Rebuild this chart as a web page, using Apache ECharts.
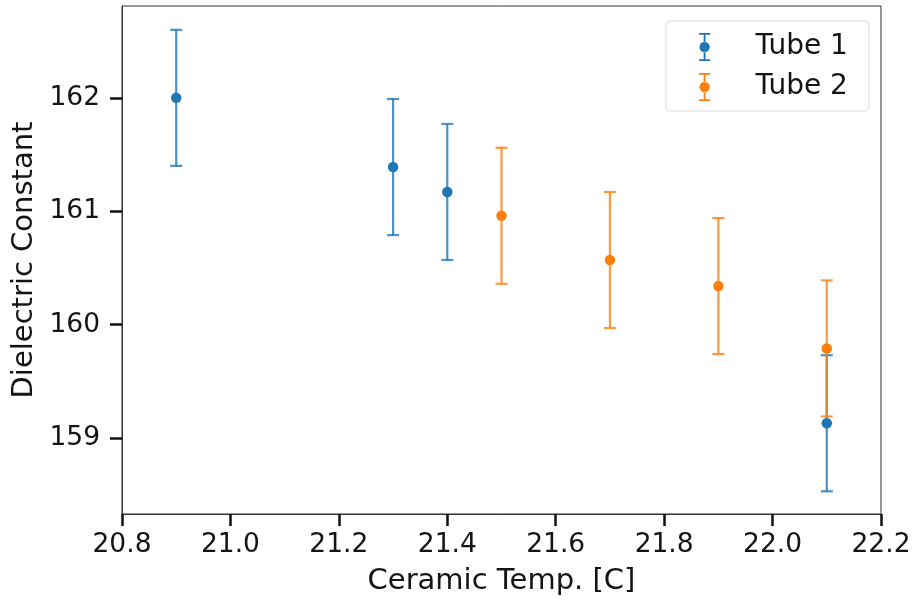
<!DOCTYPE html>
<html><head><meta charset="utf-8">
<script src="https://cdn.jsdelivr.net/npm/echarts@6/dist/echarts.min.js"></script>
<style>html,body{margin:0;padding:0;background:#fff}#c{width:917px;height:601px}</style>
</head><body><div id="c"></div>
<script>
const tube1X = [20.9, 21.3, 21.4, 22.1];
const tube1Y = [162.00, 161.39, 161.17, 159.13];
const tube1Err = [0.6, 0.6, 0.6, 0.6];
const tube2X = [21.5, 21.7, 21.9, 22.1];
const tube2Y = [160.96, 160.57, 160.34, 159.79];
const tube2Err = [0.6, 0.6, 0.6, 0.6];
const xTicks = [20.8, 21.0, 21.2, 21.4, 21.6, 21.8, 22.0, 22.2];
const yTicks = [159, 160, 161, 162];

const C1 = '#1f77b4', C2 = '#ff7f0e';
const font = 'DejaVu Sans';
const TXT = '#141414';

function errSeries(name, xs, ys, es, color) {
  return {
    type: 'custom', name: name, z: 2,
    data: xs.map((x, i) => [x, ys[i] - es[i], ys[i] + es[i]]),
    renderItem: function (params, api) {
      const lo = api.coord([api.value(0), api.value(1)]);
      const hi = api.coord([api.value(0), api.value(2)]);
      const w = 6;
      const st = { stroke: color, lineWidth: 2.2, opacity: 0.8 };
      return { type: 'group', children: [
        { type: 'line', shape: { x1: lo[0], y1: lo[1], x2: hi[0], y2: hi[1] }, style: st },
        { type: 'line', shape: { x1: lo[0]-w, y1: lo[1], x2: lo[0]+w, y2: lo[1] }, style: st },
        { type: 'line', shape: { x1: hi[0]-w, y1: hi[1], x2: hi[0]+w, y2: hi[1] }, style: st }
      ]};
    }
  };
}
function ptSeries(name, xs, ys, color) {
  return { type: 'scatter', name: name, z: 3, symbol: 'circle', symbolSize: 10.5,
    itemStyle: { color: color, opacity: 1 }, data: xs.map((x, i) => [x, ys[i]]) };
}
const icon = 'path://M0,0H12V2H0Z M5,2H7V10H5Z M0.5,15A5.5,5.5 0 1,0 11.5,15A5.5,5.5 0 1,0 0.5,15Z M5,20H7V28H5Z M0,28H12V30H0Z';

const chart = echarts.init(document.getElementById('c'), null, { renderer: 'canvas' });
chart.setOption({
  animation: false,
  backgroundColor: '#fff',
  grid: { left: 122, right: 36, top: 6, bottom: 86, show: true, borderColor: '#333', borderWidth: 1 },
  legend: {
    left: 666, top: 21, orient: 'vertical', itemGap: 12, itemWidth: 12, itemHeight: 28,
    padding: [12, 21, 10, 33],
    backgroundColor: '#fff', borderColor: '#ddd', borderWidth: 1, borderRadius: 4,
    textStyle: { fontFamily: font, fontSize: 28, color: TXT, padding: [0, 0, 0, 40] },
    data: [
      { name: 'Tube 1', icon: icon, itemStyle: { color: C1 } },
      { name: 'Tube 2', icon: icon, itemStyle: { color: C2 } }
    ]
  },
  xAxis: {
    type: 'value', min: 20.8, max: 22.2, interval: 0.2,
    name: 'Ceramic Temp. [C]', nameLocation: 'middle', nameGap: 53,
    nameTextStyle: { fontFamily: font, fontSize: 29, color: TXT },
    axisLine: { lineStyle: { color: '#333', width: 1 } },
    axisTick: { length: 12, lineStyle: { color: '#111', width: 2.5 } },
    axisLabel: { fontFamily: font, fontSize: 26.5, color: TXT, margin: 18,
      formatter: v => v.toFixed(1) },
    splitLine: { show: false }
  },
  yAxis: {
    type: 'value', min: 158.33, max: 162.81,
    name: 'Dielectric Constant', nameLocation: 'middle', nameGap: 82,
    nameTextStyle: { fontFamily: font, fontSize: 29, color: TXT },
    axisLine: { show: true, lineStyle: { color: '#333', width: 1 } },
    axisTick: { show: true, length: 12, customValues: yTicks, lineStyle: { color: '#111', width: 2.5 } },
    axisLabel: { fontFamily: font, fontSize: 26.5, color: TXT, margin: 22, customValues: yTicks,
      formatter: v => String(Math.round(v)) },
    splitLine: { show: false }
  },
  series: [
    errSeries('Tube 1', tube1X, tube1Y, tube1Err, C1),
    ptSeries('Tube 1', tube1X, tube1Y, C1),
    errSeries('Tube 2', tube2X, tube2Y, tube2Err, C2),
    ptSeries('Tube 2', tube2X, tube2Y, C2)
  ]
});
</script></body></html>
